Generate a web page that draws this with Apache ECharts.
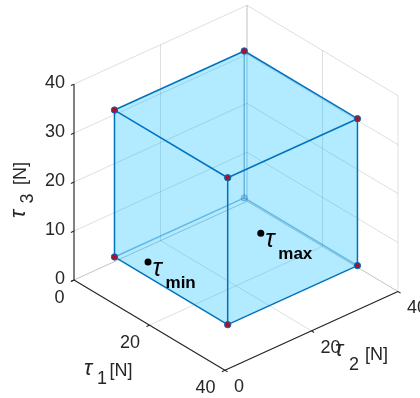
<!DOCTYPE html>
<html>
<head>
<meta charset="utf-8">
<script src="https://cdn.jsdelivr.net/npm/echarts@6/dist/echarts.min.js"></script>
<style>
  html, body { margin: 0; padding: 0; background: #ffffff; }
  #chart { width: 420px; height: 398px; }
</style>
</head>
<body>
<div id="chart"></div>
<script>
// ---- axis ticks (N) ----
const tau1Ticks = [0, 20, 40];
const tau2Ticks = [0, 20, 40];
const tau3Ticks = [0, 10, 20, 30, 40];
const axisMax = 40;

// ---- admissible force box ----
const tauMin = [5, 5, 5];
const tauMax = [35, 35, 35];

// ---- annotated points ----
const markNames = ['min', 'max'];
const markPoints = [[10.1, 8.3, 5], [15.8, 29.4, 5]];

// ---- view (orthographic, azimuth / elevation) ----
const AZ = 48.9 * Math.PI / 180;
const EL = 31.45 * Math.PI / 180;
const SCALE = 5.74;           // px per N on screen
const ORIGIN_PX = [74, 280];  // where (0,0,0) lands
const W = 420, H = 398;

const FONT = '"Liberation Sans", Arial, Helvetica, sans-serif';
const TXT = '#262626';
const EDGE = '#0072BD';

function project(p) {
  const x = p[0], y = p[1], z = p[2];
  const u = x * Math.cos(AZ) + y * Math.sin(AZ);
  const v = -x * Math.sin(AZ) * Math.sin(EL) + y * Math.cos(AZ) * Math.sin(EL) + z * Math.cos(EL);
  return [u, v];
}
const viewDir = [Math.sin(AZ) * Math.cos(EL), -Math.cos(AZ) * Math.cos(EL), Math.sin(EL)];
const dot = (a, b) => a[0] * b[0] + a[1] * b[1] + a[2] * b[2];

// ---- box grid segments on the back walls and the floor ----
const gridSegs = [];
tau3Ticks.forEach(z => {
  gridSegs.push([[0, 0, z], [0, axisMax, z]]);
  gridSegs.push([[0, axisMax, z], [axisMax, axisMax, z]]);
});
tau2Ticks.forEach(y => {
  gridSegs.push([[0, y, 0], [0, y, axisMax]]);
  gridSegs.push([[0, y, 0], [axisMax, y, 0]]);
});
tau1Ticks.forEach(x => {
  gridSegs.push([[x, axisMax, 0], [x, axisMax, axisMax]]);
  gridSegs.push([[x, 0, 0], [x, axisMax, 0]]);
});

// ---- cube geometry ----
const verts = [];
for (let i = 0; i < 8; i++) {
  verts.push([
    (i & 1) ? tauMax[0] : tauMin[0],
    (i & 2) ? tauMax[1] : tauMin[1],
    (i & 4) ? tauMax[2] : tauMin[2]
  ]);
}
const faces = [
  { idx: [0, 2, 6, 4], n: [-1, 0, 0] },
  { idx: [1, 3, 7, 5], n: [1, 0, 0] },
  { idx: [0, 1, 5, 4], n: [0, -1, 0] },
  { idx: [2, 3, 7, 6], n: [0, 1, 0] },
  { idx: [0, 1, 3, 2], n: [0, 0, -1] },
  { idx: [4, 5, 7, 6], n: [0, 0, 1] }
];
faces.forEach(f => { f.front = dot(f.n, viewDir) > 0; });
const edges = [];
for (let i = 0; i < 8; i++) for (let j = i + 1; j < 8; j++) {
  const d = i ^ j;
  if (d === 1 || d === 2 || d === 4) {
    const adj = faces.filter(f => f.idx.includes(i) && f.idx.includes(j));
    edges.push({ a: i, b: j, front: adj.some(f => f.front) });
  }
}
const vertInfo = verts.map((v, i) => ({ i, front: faces.some(f => f.front && f.idx.includes(i)) }));

const backFaces = faces.filter(f => !f.front), frontFaces = faces.filter(f => f.front);
const backEdges = edges.filter(e => !e.front), frontEdges = edges.filter(e => e.front);
const backVerts = vertInfo.filter(v => !v.front), frontVerts = vertInfo.filter(v => v.front);

const dummy = arr => arr.map(() => [0, 0]);
const px = (api, p) => api.coord(project(p));

function text(x, y, str, opt) {
  return {
    type: 'text',
    x: x, y: y,
    style: Object.assign({
      text: str, fill: TXT, fontSize: 18, fontFamily: FONT,
      align: 'left', verticalAlign: 'middle'
    }, opt || {})
  };
}

const TICK = 0.7;
const TAU = { fontStyle: 'italic', fontSize: 22 };

function renderAxes(params, api) {
  const ch = [];
  const axLine = (p, q) => {
    const a = px(api, p), b = px(api, q);
    ch.push({ type: 'line', shape: { x1: a[0], y1: a[1], x2: b[0], y2: b[1] },
      style: { stroke: TXT, lineWidth: 1.1 } });
  };
  // axis lines
  axLine([0, 0, 0], [0, 0, axisMax]);
  axLine([0, 0, 0], [axisMax, 0, 0]);
  axLine([axisMax, 0, 0], [axisMax, axisMax, 0]);
  // tau3 ticks & labels
  tau3Ticks.forEach(z => {
    axLine([0, 0, z], [0, -TICK, z]);
    const p = px(api, [0, 0, z]);
    ch.push(text(p[0] - 9, p[1] - 1, String(z), { align: 'right' }));
  });
  // tau1 ticks & labels
  tau1Ticks.forEach(x => {
    axLine([x, 0, 0], [x, -TICK, 0]);
    const p = px(api, [x, 0, 0]);
    ch.push(text(p[0] - 9.5, p[1] + 18, String(x), { align: 'right' }));
  });
  // tau2 ticks & labels
  tau2Ticks.forEach(y => {
    axLine([axisMax, y, 0], [axisMax + TICK, y, 0]);
    const p = px(api, [axisMax, y, 0]);
    ch.push(text(p[0] + 9, p[1] + 17, String(y), { align: 'left' }));
  });
  // axis titles
  const m1 = px(api, [axisMax / 2, 0, 0]);
  ch.push(text(m1[0] - 65.5, m1[1] + 43.5, 'τ', TAU));
  ch.push(text(m1[0] - 52.5, m1[1] + 53.5, '1'));
  ch.push(text(m1[0] - 40, m1[1] + 46, '[N]'));
  const m2 = px(api, [axisMax, axisMax / 2, 0]);
  ch.push(text(m2[0] + 23.5, m2[1] + 19, 'τ', TAU));
  ch.push(text(m2[0] + 37.5, m2[1] + 34, '2'));
  ch.push(text(m2[0] + 53.5, m2[1] + 24.5, '[N]'));
  const m3 = px(api, [0, 0, axisMax / 2]);
  ch.push({
    type: 'group', x: m3[0] - 55, y: m3[1] + 36, rotation: Math.PI / 2,
    children: [
      text(0, 0, 'τ', TAU),
      text(14.5, 9, '3'),
      text(33, 2.5, '[N]')
    ]
  });
  return { type: 'group', children: ch };
}

const option = {
  animation: false,
  backgroundColor: '#ffffff',
  grid: { left: 0, right: 0, top: 0, bottom: 0, containLabel: false, outerBoundsMode: 'none' },
  xAxis: {
    type: 'value', show: false,
    min: -ORIGIN_PX[0] / SCALE, max: (W - ORIGIN_PX[0]) / SCALE
  },
  yAxis: {
    type: 'value', show: false,
    min: -(H - ORIGIN_PX[1]) / SCALE, max: ORIGIN_PX[1] / SCALE
  },
  series: [
    {
      name: 'grid', type: 'custom', z: 1, clip: false, silent: true,
      data: dummy(gridSegs),
      renderItem: (params, api) => {
        const s = gridSegs[params.dataIndex];
        const a = px(api, s[0]), b = px(api, s[1]);
        return { type: 'line', shape: { x1: a[0], y1: a[1], x2: b[0], y2: b[1] },
          style: { stroke: 'rgba(38,38,38,0.15)', lineWidth: 1 } };
      }
    },
    {
      name: 'axes', type: 'custom', z: 2, clip: false, silent: true,
      data: [[0, 0]],
      renderItem: renderAxes
    },
    {
      name: 'backFaces', type: 'custom', z: 3, clip: false, silent: true,
      data: dummy(backFaces),
      renderItem: (params, api) => ({
        type: 'polygon',
        shape: { points: backFaces[params.dataIndex].idx.map(i => px(api, verts[i])) },
        style: { fill: 'rgba(0,191,255,0.165)', stroke: null }
      })
    },
    {
      name: 'backEdges', type: 'custom', z: 4, clip: false, silent: true,
      data: dummy(backEdges),
      renderItem: (params, api) => {
        const e = backEdges[params.dataIndex];
        const a = px(api, verts[e.a]), b = px(api, verts[e.b]);
        return { type: 'line', shape: { x1: a[0], y1: a[1], x2: b[0], y2: b[1] },
          style: { stroke: EDGE, lineWidth: 1.5, opacity: 0.45 } };
      }
    },
    {
      name: 'backVerts', type: 'custom', z: 5, clip: false, silent: true,
      data: dummy(backVerts),
      renderItem: (params, api) => {
        const p = px(api, verts[backVerts[params.dataIndex].i]);
        return { type: 'circle', shape: { cx: p[0], cy: p[1], r: 3.2 },
          style: { fill: '#5a7fb0', stroke: EDGE, lineWidth: 1, opacity: 0.35 } };
      }
    },
    {
      name: 'frontFaces', type: 'custom', z: 6, clip: false, silent: true,
      data: dummy(frontFaces),
      renderItem: (params, api) => ({
        type: 'polygon',
        shape: { points: frontFaces[params.dataIndex].idx.map(i => px(api, verts[i])) },
        style: { fill: 'rgba(0,191,255,0.165)', stroke: null }
      })
    },
    {
      name: 'frontEdges', type: 'custom', z: 7, clip: false, silent: true,
      data: dummy(frontEdges),
      renderItem: (params, api) => {
        const e = frontEdges[params.dataIndex];
        const a = px(api, verts[e.a]), b = px(api, verts[e.b]);
        return { type: 'line', shape: { x1: a[0], y1: a[1], x2: b[0], y2: b[1] },
          style: { stroke: EDGE, lineWidth: 1.5 } };
      }
    },
    {
      name: 'frontVerts', type: 'custom', z: 8, clip: false, silent: true,
      data: dummy(frontVerts),
      renderItem: (params, api) => {
        const p = px(api, verts[frontVerts[params.dataIndex].i]);
        return { type: 'circle', shape: { cx: p[0], cy: p[1], r: 3.2 },
          style: { fill: '#A2142F', stroke: EDGE, lineWidth: 1 } };
      }
    },
    {
      name: 'marks', type: 'custom', z: 9, clip: false, silent: true,
      data: dummy(markPoints),
      renderItem: (params, api) => {
        const p = px(api, markPoints[params.dataIndex]);
        return {
          type: 'group',
          children: [
            { type: 'circle', shape: { cx: p[0], cy: p[1], r: 3.5 }, style: { fill: '#000000' } },
            text(p[0] + 4.5, p[1] + 7, 'τ', { fill: '#000000', fontSize: 25, fontStyle: 'italic' }),
            text(p[0] + 17.5, p[1] + 21.5, markNames[params.dataIndex],
              { fill: '#000000', fontSize: 17, fontWeight: 'bold' })
          ]
        };
      }
    }
  ]
};

const chart = echarts.init(document.getElementById('chart'), null, { renderer: 'canvas' });
chart.setOption(option);
</script>
</body>
</html>
